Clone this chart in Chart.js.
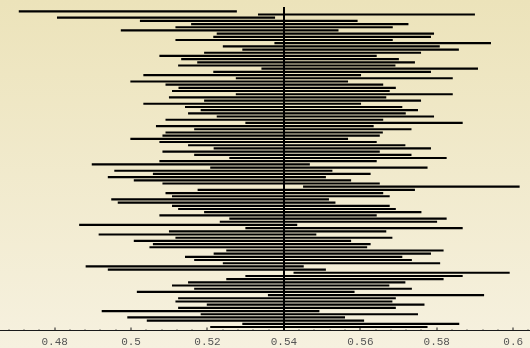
<!DOCTYPE html>
<html>
<head>
<meta charset="utf-8">
<script src="https://cdn.jsdelivr.net/npm/chart.js@4.4.1/dist/chart.umd.min.js"></script>
<style>
  html, body { margin: 0; padding: 0; background: #f3edd3; }
  #wrap { width: 530px; height: 348px; background: linear-gradient(#ece3ba, #f6f1df); }
</style>
</head>
<body>
<div id="wrap"><canvas id="ci" width="530" height="348"></canvas></div>
<script>
// one interval per sample, top to bottom
const lows = [
  0.4707, 0.5333, 0.4807, 0.5024, 0.5158, 0.5117, 0.4974, 0.5225, 0.5216, 0.5117,
  0.5376, 0.5241, 0.5292, 0.5192, 0.5075, 0.5132, 0.5174, 0.5124, 0.5342, 0.5216,
  0.5033, 0.5275, 0.4999, 0.5091, 0.5125, 0.5108, 0.5275, 0.5100, 0.5192, 0.5033,
  0.5142, 0.5183, 0.5150, 0.5225, 0.5091, 0.5300, 0.5066, 0.5166, 0.5091, 0.5083,
  0.4999, 0.5075, 0.5150, 0.5217, 0.5083, 0.5166, 0.5258, 0.5075, 0.4898, 0.5208,
  0.4957, 0.5058, 0.4940, 0.5008, 0.5083, 0.5451, 0.5175, 0.5091, 0.5108, 0.4949,
  0.4966, 0.5108, 0.5124, 0.5192, 0.5075, 0.5258, 0.5233, 0.4865, 0.5300, 0.5100,
  0.4916, 0.5117, 0.5008, 0.5058, 0.5049, 0.5250, 0.5217, 0.5142, 0.5166, 0.5241,
  0.4882, 0.4940, 0.5426, 0.5300, 0.5250, 0.5150, 0.5108, 0.5166, 0.5016, 0.5359,
  0.5124, 0.5117, 0.5199, 0.5124, 0.4924, 0.5183, 0.4991, 0.5042, 0.5292, 0.5208
];
const highs = [
  0.5276, 0.5899, 0.5376, 0.5592, 0.5725, 0.5684, 0.5542, 0.5792, 0.5784, 0.5684,
  0.5941, 0.5807, 0.5857, 0.5758, 0.5642, 0.5700, 0.5742, 0.5691, 0.5907, 0.5784,
  0.5601, 0.5841, 0.5567, 0.5659, 0.5692, 0.5676, 0.5841, 0.5667, 0.5758, 0.5601,
  0.5709, 0.5750, 0.5718, 0.5792, 0.5659, 0.5867, 0.5634, 0.5733, 0.5658, 0.5650,
  0.5567, 0.5642, 0.5717, 0.5784, 0.5650, 0.5733, 0.5825, 0.5642, 0.5467, 0.5775,
  0.5526, 0.5626, 0.5509, 0.5575, 0.5650, 0.6016, 0.5742, 0.5659, 0.5676, 0.5517,
  0.5534, 0.5676, 0.5692, 0.5759, 0.5642, 0.5825, 0.5800, 0.5434, 0.5867, 0.5667,
  0.5484, 0.5683, 0.5575, 0.5626, 0.5617, 0.5817, 0.5784, 0.5709, 0.5734, 0.5808,
  0.5451, 0.5509, 0.5990, 0.5867, 0.5817, 0.5717, 0.5675, 0.5734, 0.5584, 0.5923,
  0.5692, 0.5683, 0.5767, 0.5692, 0.5492, 0.5750, 0.5559, 0.5609, 0.5858, 0.5775
];
const refValue = 0.54;
const majorTicks = [0.48, 0.5, 0.52, 0.54, 0.56, 0.58, 0.6];
const tickLabels = ['0.48', '0.5', '0.52', '0.54', '0.56', '0.58', '0.6'];
const minorTicks = [
  0.468, 0.472, 0.476, 0.484, 0.488, 0.492, 0.496, 0.504, 0.508, 0.512, 0.516,
  0.524, 0.528, 0.532, 0.536, 0.544, 0.548, 0.552, 0.556, 0.564, 0.568, 0.572,
  0.576, 0.584, 0.588, 0.592, 0.596, 0.604
];

const isMajor = (v) => majorTicks.some(m => Math.abs(m - v) < 1e-6);
const isRef = (ctx) => ctx.tick && Math.abs(ctx.tick.value - refValue) < 1e-6;
const rows = lows.map((lo, i) => ({ y: i, x: [lo, highs[i]] }));

new Chart(document.getElementById('ci'), {
  type: 'bar',
  data: {
    datasets: [{
      data: rows,
      backgroundColor: '#000000',
      borderWidth: 0,
      barThickness: 1.5
    }]
  },
  options: {
    indexAxis: 'y',
    responsive: false,
    devicePixelRatio: 1,
    animation: false,
    // the axis box is taller than its ink (tall label line), pull it back down
    layout: { padding: { top: 7, left: 0, right: 0, bottom: -9 } },
    plugins: { legend: { display: false }, tooltip: { enabled: false } },
    scales: {
      y: {
        type: 'linear',
        reverse: true,
        offset: false,
        grace: 0,
        min: -1.35,
        max: 100.1,
        display: false
      },
      x: {
        type: 'linear',
        position: 'bottom',
        offset: false,
        min: 0.4657,
        max: 0.6044,
        afterBuildTicks: (scale) => {
          scale.ticks = majorTicks.concat(minorTicks).sort((a, b) => a - b).map(v => ({ value: v }));
        },
        border: { display: true, color: '#1a1a1a', width: 1 },
        grid: {
          drawOnChartArea: true,
          color: (ctx) => isRef(ctx) ? '#000000' : 'rgba(0,0,0,0)',
          lineWidth: (ctx) => isRef(ctx) ? 2 : 0,
          tickLength: -3,
          tickColor: '#1a1a1a',
          tickWidth: 1,
          tickBorderDash: (ctx) => (ctx.tick && isMajor(ctx.tick.value)) ? [] : [1.5, 20]
        },
        ticks: {
          autoSkip: false,
          maxRotation: 0,
          minRotation: 0,
          padding: 1,
          color: '#555555',
          font: { family: 'Liberation Mono', size: 11, lineHeight: 2.5 },
          callback: (v) => {
            const k = majorTicks.findIndex(m => Math.abs(m - v) < 1e-6);
            return k >= 0 ? tickLabels[k] : '';
          }
        }
      }
    }
  }
});
</script>
</body>
</html>
